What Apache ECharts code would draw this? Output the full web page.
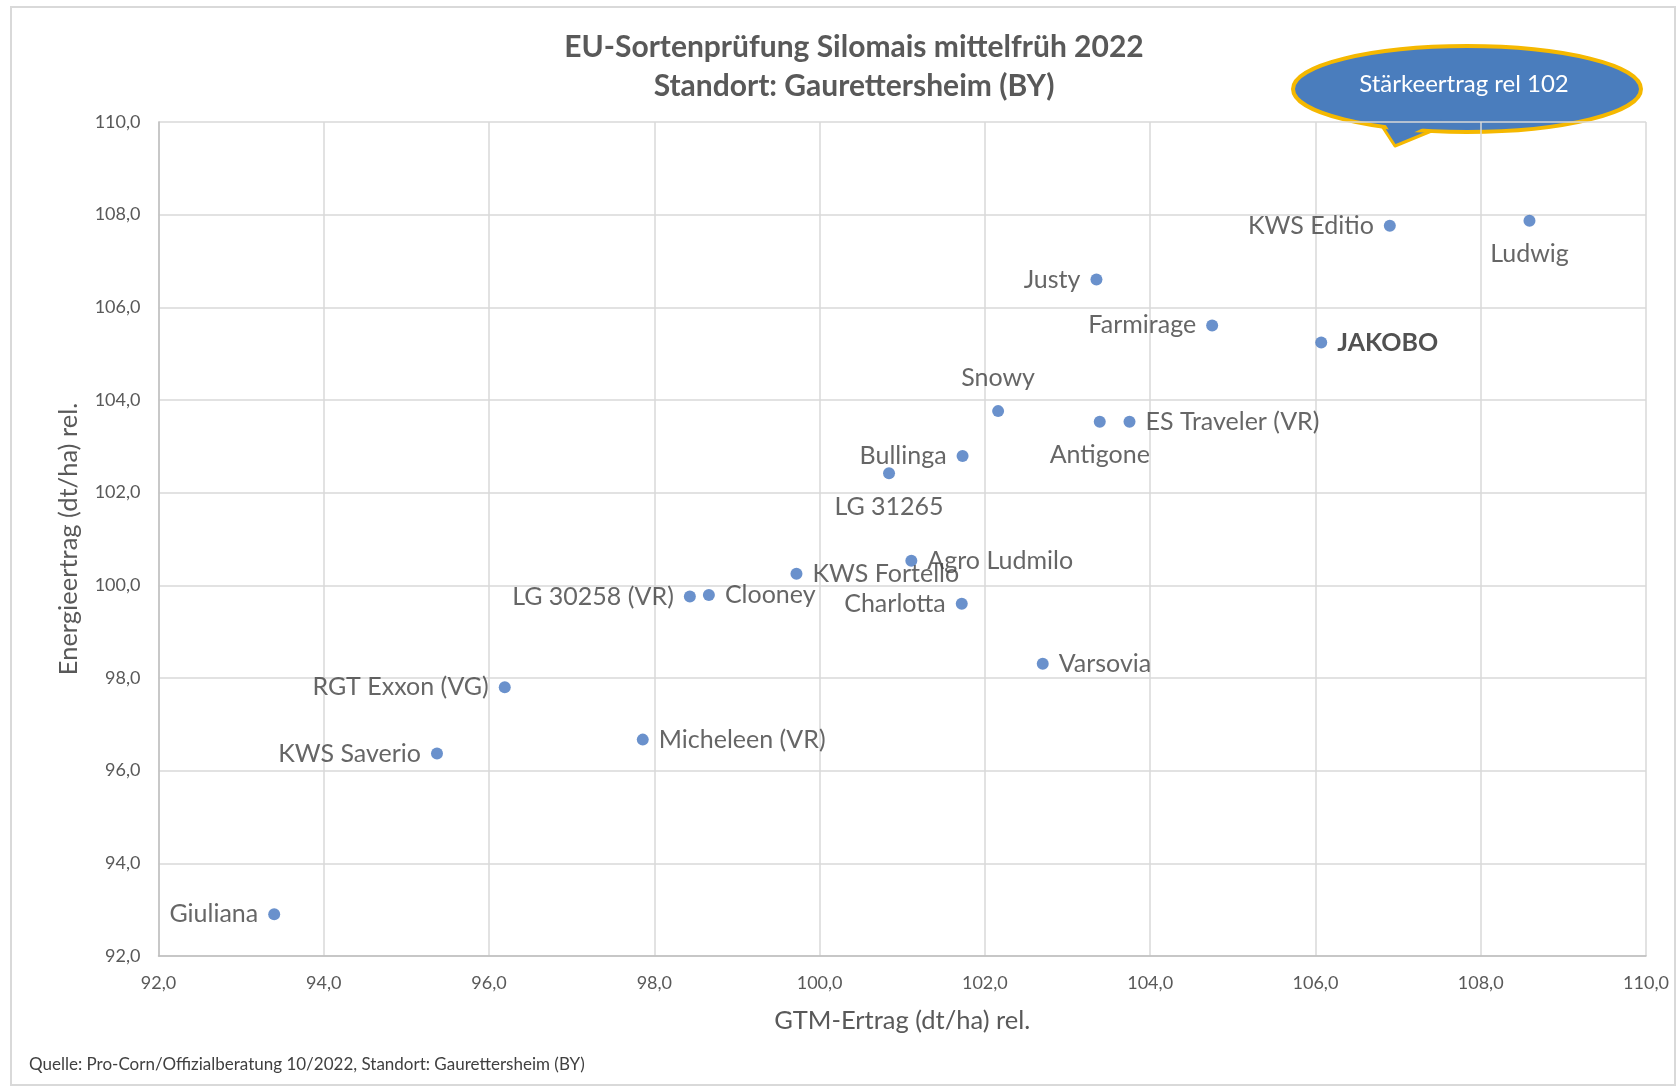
<!DOCTYPE html>
<html><head><meta charset="utf-8">
<script src="https://cdn.jsdelivr.net/npm/echarts@6/dist/echarts.min.js"></script>
<style>html,body{margin:0;padding:0;background:#fff}#c{width:1679px;height:1088px}</style>
</head><body><div id="c"></div>
<script>
const varieties = ["Ludwig","KWS Editio","Justy","Farmirage","JAKOBO","Snowy","Antigone","ES Traveler (VR)","Bullinga","LG 31265","Agro Ludmilo","KWS Fortello","Clooney","LG 30258 (VR)","Charlotta","Varsovia","RGT Exxon (VG)","Micheleen (VR)","KWS Saverio","Giuliana"];
const gtmErtrag = [108.59,106.90,103.35,104.75,106.07,102.16,103.39,103.75,101.73,100.84,101.11,99.72,98.66,98.43,101.72,102.70,96.19,97.86,95.37,93.40];
const energieErtrag = [107.87,107.76,106.60,105.61,105.24,103.76,103.53,103.53,102.79,102.42,100.53,100.25,99.79,99.76,99.60,98.31,97.80,96.67,96.37,92.90];
const axisTicks = [92,94,96,98,100,102,104,106,108,110];

const labelPlacement = {"Ludwig":"bottom","KWS Editio":"left","Justy":"left","Farmirage":"left","JAKOBO":"right","Snowy":"top","Antigone":"bottom","ES Traveler (VR)":"right","Bullinga":"left","LG 31265":"bottom","Agro Ludmilo":"right","KWS Fortello":"right","Clooney":"right","LG 30258 (VR)":"left","Charlotta":"left","Varsovia":"right","RGT Exxon (VG)":"left","Micheleen (VR)":"right","KWS Saverio":"left","Giuliana":"left"};

const FONT = "Lato, 'Noto Sans', sans-serif";
const data = varieties.map((n,i)=>{
  const pos = labelPlacement[n];
  const vert = pos==='top'||pos==='bottom';
  return {
    name:n, value:[gtmErtrag[i], energieErtrag[i]],
    label:{show:true, position:pos, distance: vert?15:10,
      formatter:n, fontFamily:FONT, fontSize:25,
      color: n==='JAKOBO' ? '#262626' : '#404040',
      fontWeight: n==='JAKOBO' ? 'bold' : 'normal'}
  };
});
const fmt = v => v.toFixed(1).replace('.', ',');
const chart = echarts.init(document.getElementById('c'));
chart.setOption({
  backgroundColor:'#fff',
  animation:false,
  title:{
    text:'EU-Sortenprüfung Silomais mittelfrüh 2022\nStandort: Gaurettersheim (BY)',
    left:849, top:23, textAlign:'center',
    textStyle:{fontFamily:FONT, fontSize:30, fontWeight:'bold', color:'#595959', lineHeight:39}
  },
  grid:{left:158.5, right:33, top:122, bottom:132},
  xAxis:{type:'value', min:axisTicks[0], max:axisTicks[axisTicks.length-1], interval:2,
    name:'GTM-Ertrag (dt/ha) rel.', nameLocation:'middle', nameGap:52,
    nameTextStyle:{fontFamily:FONT, fontSize:25.5, color:'#595959'},
    axisLine:{show:true, onZero:false, lineStyle:{color:'#bfbfbf', width:1.5}},
    axisTick:{show:false},
    axisLabel:{formatter:fmt, fontFamily:FONT, fontSize:18, color:'#595959', margin:18},
    splitLine:{show:true, lineStyle:{color:'#d9d9d9', width:1.5}}},
  yAxis:{type:'value', min:axisTicks[0], max:axisTicks[axisTicks.length-1], interval:2,
    name:'Energieertrag (dt/ha) rel.', nameLocation:'middle', nameGap:77, nameRotate:90,
    nameTextStyle:{fontFamily:FONT, fontSize:25.5, color:'#595959'},
    axisLine:{show:true, onZero:false, lineStyle:{color:'#bfbfbf', width:1.5}},
    axisTick:{show:false},
    axisLabel:{formatter:fmt, fontFamily:FONT, fontSize:18, color:'#595959', margin:18},
    splitLine:{show:true, lineStyle:{color:'#d9d9d9', width:1.5}}},
  series:[{type:'scatter', data:data, symbol:'circle', symbolSize:12,
    itemStyle:{color:'#4576bf'}, labelLayout:{hideOverlap:false}}],
  graphic:[
    {type:'rect', shape:{x:11, y:7, width:1664, height:1078}, style:{fill:'none', stroke:'#d9d9d9', lineWidth:2}, z:-1, silent:true},
    {type:'text', left:29, top:1056, style:{text:'Quelle: Pro-Corn/Offizialberatung 10/2022, Standort: Gaurettersheim (BY)', font:'17px '+FONT, fill:'#404040'}},
    {type:'group', z:100, children:[
      {type:'polygon', shape:{points:[[1380,123],[1395,146],[1446,125]]}, style:{fill:'#4a7dbd', stroke:'#f5b800', lineWidth:3, lineJoin:'round'}},
      {type:'ellipse', shape:{cx:1467, cy:89, rx:174, ry:43}, style:{fill:'#4a7dbd', stroke:'#f5b800', lineWidth:4}},
      {type:'polygon', shape:{points:[[1382,119],[1396,141],[1442,119]]}, style:{fill:'#4a7dbd'}},
      {type:'text', style:{x:1464, y:84, text:'Stärkeertrag rel 102', font:'24px '+FONT, fill:'#ffffff', align:'center', verticalAlign:'middle'}}
    ]}
  ]
});
</script></body></html>
